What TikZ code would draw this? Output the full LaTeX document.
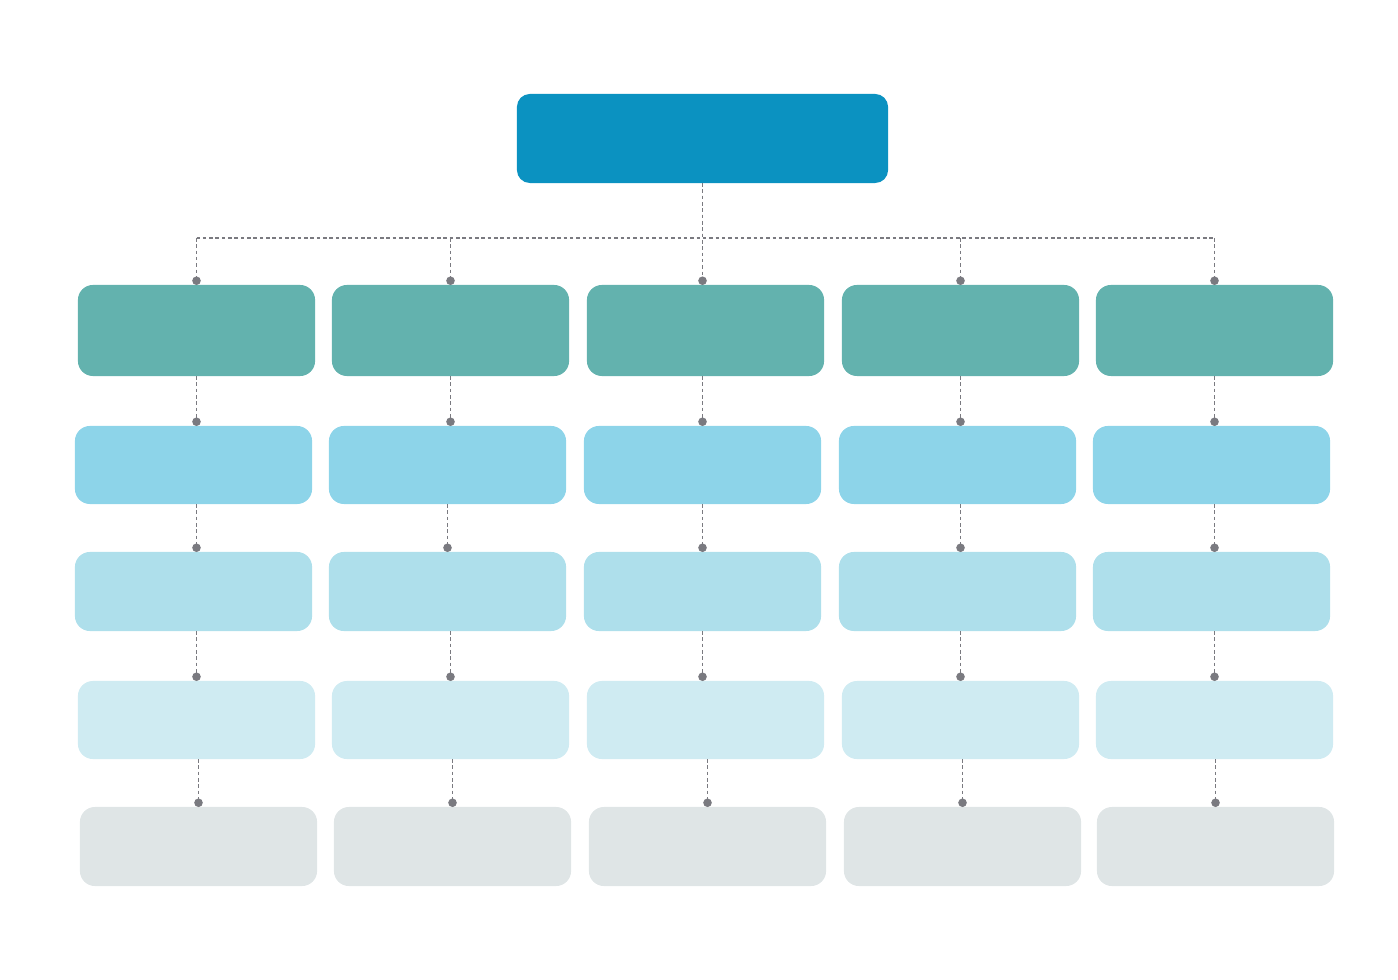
\documentclass[tikz,border=0pt]{standalone}
\usetikzlibrary{arrows.meta, positioning}

\definecolor{headblue}{HTML}{0B92C1}
\definecolor{teal1}{HTML}{63B2AE}
\definecolor{sky1}{HTML}{8DD4E9}
\definecolor{sky2}{HTML}{AEDFEB}
\definecolor{sky3}{HTML}{CFEBF2}
\definecolor{mist}{HTML}{DFE5E6}
\definecolor{linegray}{HTML}{7A7A80}

\begin{document}
\begin{tikzpicture}[
    x=0.01cm, y=-0.01cm,
    every node/.style={inner sep=0pt, outer sep=0pt},
    box/.style={rectangle, rounded corners=0.15cm, minimum width=2.37cm},
    head/.style={rectangle, rounded corners=0.13cm, fill=headblue,
      minimum width=3.71cm, minimum height=0.89cm},
    lvla/.style={box, fill=teal1, minimum height=0.91cm},
    lvlb/.style={box, fill=sky1, minimum height=0.78cm},
    lvlc/.style={box, fill=sky2, minimum height=0.79cm},
    lvld/.style={box, fill=sky3, minimum height=0.78cm},
    lvle/.style={box, fill=mist, minimum height=0.79cm},
    conn/.style={draw=linegray, line width=0.55pt, dash pattern=on 1pt off 0.8pt},
    dotend/.style={conn, -{Circle[length=2.4pt, fill=linegray]}}
  ]
    \useasboundingbox (0,0) rectangle (1398,980);

    % Top box
    \node[head] (top) at (702.5,138.5) {};

    % First row
    \node[lvla] (a1) at (196.5,330.5) {};
    \node[lvla] (a2) at (450.5,330.5) {};
    \node[lvla] (a3) at (705.5,330.5) {};
    \node[lvla] (a4) at (960.5,330.5) {};
    \node[lvla] (a5) at (1214.5,330.5) {};

    % Second row
    \node[lvlb] (b1) at (193.5,465) {};
    \node[lvlb] (b2) at (447.5,465) {};
    \node[lvlb] (b3) at (702.5,465) {};
    \node[lvlb] (b4) at (957.5,465) {};
    \node[lvlb] (b5) at (1211.5,465) {};

    % Third row
    \node[lvlc] (c1) at (193.5,591.5) {};
    \node[lvlc] (c2) at (447.5,591.5) {};
    \node[lvlc] (c3) at (702.5,591.5) {};
    \node[lvlc] (c4) at (957.5,591.5) {};
    \node[lvlc] (c5) at (1211.5,591.5) {};

    % Fourth row
    \node[lvld] (d1) at (196.5,720) {};
    \node[lvld] (d2) at (450.5,720) {};
    \node[lvld] (d3) at (705.5,720) {};
    \node[lvld] (d4) at (960.5,720) {};
    \node[lvld] (d5) at (1214.5,720) {};

    % Fifth row
    \node[lvle] (e1) at (198.5,846.5) {};
    \node[lvle] (e2) at (452.5,846.5) {};
    \node[lvle] (e3) at (707.5,846.5) {};
    \node[lvle] (e4) at (962.5,846.5) {};
    \node[lvle] (e5) at (1215.5,846.5) {};

    % Bus from the top box
    \coordinate (bus) at (0,238);
    \draw[conn] (top.south) -- (top.south |- bus);
    \draw[conn] (a1.north |- bus) -- (a5.north |- bus);
    \draw[dotend] (a1.north |- bus) -- (a1.north);
    \draw[dotend] (a2.north |- bus) -- (a2.north);
    \draw[dotend] (top.south) -- (top.south |- a3.north);
    \draw[dotend] (a4.north |- bus) -- (a4.north);
    \draw[dotend] (a5.north |- bus) -- (a5.north);

    % Column links
    \draw[dotend] (a1.south) -- (a1.south |- b1.north);
    \draw[dotend] (a2.south) -- (a2.south |- b2.north);
    \draw[dotend] (b3.north |- a3.south) -- (b3.north);
    \draw[dotend] (a4.south) -- (a4.south |- b4.north);
    \draw[dotend] (a5.south) -- (a5.south |- b5.north);

    \draw[dotend] (b1.south -| a1.south) -- (a1.south |- c1.north);
    \draw[dotend] (b2.south) -- (c2.north);
    \draw[dotend] (b3.south) -- (c3.north);
    \draw[dotend] (b4.south -| a4.south) -- (a4.south |- c4.north);
    \draw[dotend] (b5.south -| a5.south) -- (a5.south |- c5.north);

    \draw[dotend] (c1.south -| d1.north) -- (d1.north);
    \draw[dotend] (c2.south -| d2.north) -- (d2.north);
    \draw[dotend] (c3.south -| b3.north) -- (b3.north |- d3.north);
    \draw[dotend] (c4.south -| d4.north) -- (d4.north);
    \draw[dotend] (c5.south -| d5.north) -- (d5.north);

    \draw[dotend] (d1.south -| e1.north) -- (e1.north);
    \draw[dotend] (d2.south -| e2.north) -- (e2.north);
    \draw[dotend] (d3.south -| e3.north) -- (e3.north);
    \draw[dotend] (d4.south -| e4.north) -- (e4.north);
    \draw[dotend] (d5.south -| e5.north) -- (e5.north);

  \end{tikzpicture}
\end{document}
